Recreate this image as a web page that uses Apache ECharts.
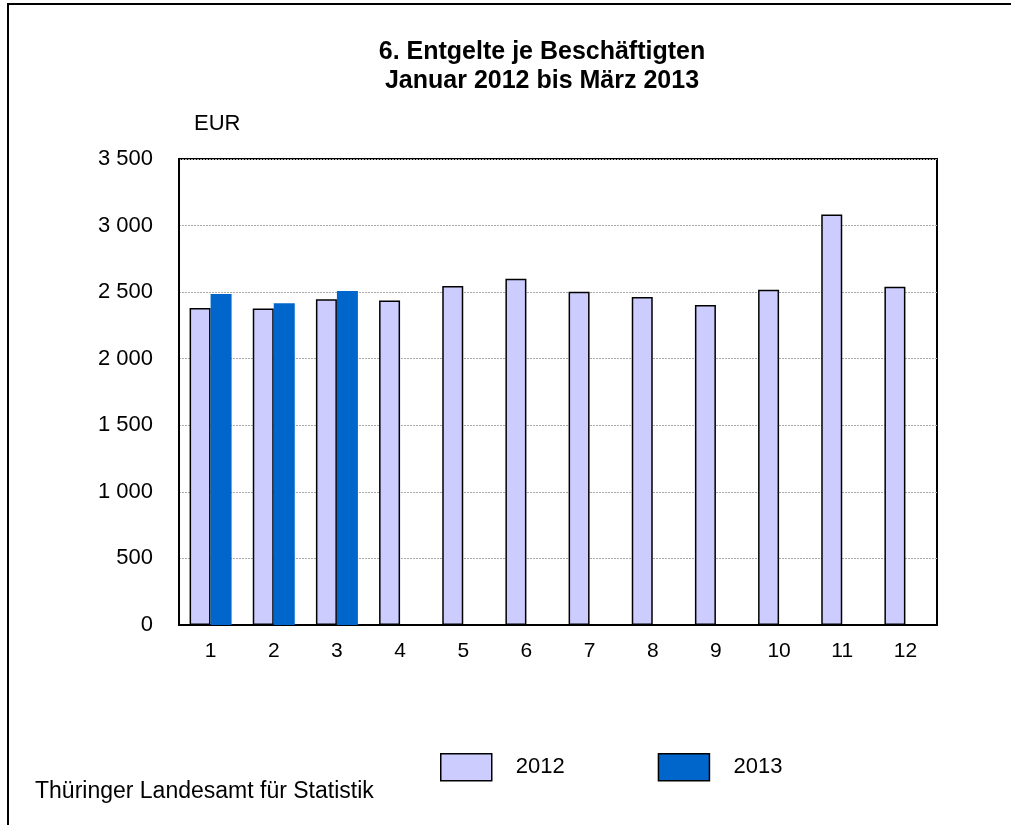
<!DOCTYPE html>
<html>
<head>
<meta charset="utf-8">
<script src="https://cdn.jsdelivr.net/npm/echarts@6/dist/echarts.min.js"></script>
<style>html,body{margin:0;padding:0;background:#fff}#c{width:1011px;height:825px}</style>
</head>
<body>
<div id="c"></div>
<script>
const months = ['1','2','3','4','5','6','7','8','9','10','11','12'];
const values2012 = [2380, 2378, 2446, 2438, 2547, 2601, 2503, 2464, 2403, 2518, 3083, 2540];
const values2013 = [2486, 2416, 2509, null, null, null, null, null, null, null, null, null];
const yTicks = [0, 500, 1000, 1500, 2000, 2500, 3000, 3500];

const font = 'Liberation Sans, Arial, sans-serif';
const chart = echarts.init(document.getElementById('c'));
chart.setOption({
  animation: false,
  backgroundColor: '#fff',
  textStyle: { fontFamily: font },
  title: {
    text: '6. Entgelte je Beschäftigten\nJanuar 2012 bis März 2013',
    left: 537, top: 33, textAlign: 'center',
    textStyle: { fontFamily: font, fontSize: 25, fontWeight: 'bold', color: '#000', lineHeight: 29 }
  },
  grid: { left: 179, top: 159, width: 758, height: 466, show: true, borderColor: '#000', borderWidth: 2, backgroundColor: 'transparent' },
  legend: {
    left: 435, top: 748, icon: 'rect',
    itemWidth: 51, itemHeight: 27, itemGap: 93,
    textStyle: { fontFamily: font, fontSize: 22, color: '#000', padding: [0, 0, 0, 19] },
    data: [
      { name: '2012', itemStyle: { color: '#CCCCFF', borderColor: '#000', borderWidth: 1.5 } },
      { name: '2013', itemStyle: { color: '#0066CC', borderColor: '#000', borderWidth: 1.5 } }
    ]
  },
  xAxis: {
    type: 'category', data: months,
    axisLine: { show: true, lineStyle: { color: '#000', width: 2 } },
    axisTick: { show: false },
    axisLabel: { fontFamily: font, fontSize: 21, color: '#000', margin: 16 }
  },
  yAxis: {
    type: 'value', min: 0, max: 3500, interval: 500,
    axisLine: { show: true, lineStyle: { color: '#000', width: 2 } },
    axisTick: { show: false },
    axisLabel: {
      fontFamily: font, fontSize: 22, color: '#000', margin: 26,
      formatter: v => yTicks.includes(v) ? String(v).replace(/\B(?=(\d{3})+(?!\d))/g, ' ') : ''
    },
    splitLine: { show: true, lineStyle: { color: '#aaa', width: 1, type: [2, 1] } }
  },
  series: [
    { name: '2012', type: 'bar', data: values2012, barWidth: 21, barGap: '0%',
      itemStyle: { color: '#CCCCFF', borderColor: '#000', borderWidth: 1.5 } },
    { name: '2013', type: 'bar', data: values2013, barWidth: 21, barGap: '0%',
      itemStyle: { color: '#0066CC' } }
  ],
  graphic: [
    { type: 'rect', shape: { x: 8, y: 4, width: 1100, height: 900 }, style: { fill: 'none', stroke: '#000', lineWidth: 2 }, z: 100 },
    { type: 'text', left: 194, top: 113, style: { text: 'EUR', font: '22px ' + font, fill: '#000' } },
    { type: 'text', left: 35, top: 780, style: { text: 'Thüringer Landesamt für Statistik', font: '23px ' + font, fill: '#000' } }
  ]
});
</script>
</body>
</html>
